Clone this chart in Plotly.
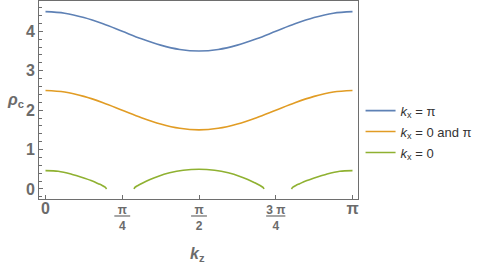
import numpy as np
import plotly.graph_objects as go

# kz sample positions as fractions of pi
kz_frac = [0, 0.0625, 0.125, 0.1875, 0.25, 0.3125, 0.375, 0.4375, 0.5,
           0.5625, 0.625, 0.6875, 0.75, 0.8125, 0.875, 0.9375, 1.0]
rho_kx_pi = [4.5, 4.46, 4.35, 4.19, 4.0, 3.81, 3.65, 3.54, 3.5,
             3.54, 3.65, 3.81, 4.0, 4.19, 4.35, 4.46, 4.5]
rho_kx_0_pi = [2.5, 2.46, 2.35, 2.19, 2.0, 1.81, 1.65, 1.54, 1.5,
               1.54, 1.65, 1.81, 2.0, 2.19, 2.35, 2.46, 2.5]

# kx = 0 branch (three pieces, gaps where no solution)
kz_g1 = [0, 0.13, 0.26, 0.40, 0.48, 0.54, 0.58, 0.61, 0.625]
rho_g1 = [0.465, 0.45, 0.38, 0.27, 0.20, 0.135, 0.09, 0.045, 0.0]
kz_g2 = [0.906, 0.915, 0.946, 1.0, 1.07, 1.15, 1.27, 1.41, 1.571,
         1.73, 1.87, 1.99, 2.07, 2.14, 2.196, 2.226, 2.236]
rho_g2 = [0.0, 0.04, 0.09, 0.16, 0.24, 0.32, 0.41, 0.475, 0.5,
          0.475, 0.41, 0.32, 0.24, 0.16, 0.09, 0.04, 0.0]
kz_g3 = [2.517, 2.532, 2.562, 2.602, 2.662, 2.742, 2.882, 3.012, 3.1416]
rho_g3 = [0.0, 0.045, 0.09, 0.135, 0.20, 0.27, 0.38, 0.45, 0.465]

x_tick_vals = [0, np.pi / 4, np.pi / 2, 3 * np.pi / 4, np.pi]
x_tick_text = [
    "<span style='font-size:16px'>0</span>",
    "<u>&nbsp;π&nbsp;</u><br>4",
    "<u>&nbsp;π&nbsp;</u><br>2",
    "<u>3 π</u><br>4",
    "<span style='font-size:16px'>π</span>",
]
series_names = ["<i>k</i><sub>x</sub> = π", "<i>k</i><sub>x</sub> = 0 and π",
                "<i>k</i><sub>x</sub> = 0"]
colors = ["#5E81B5", "#E19C24", "#8FB131"]

kz = [f * np.pi for f in kz_frac]
fig = go.Figure()
fig.add_trace(go.Scatter(x=kz, y=rho_kx_pi, mode="lines", name=series_names[0],
                         legendgroup="a",
                         line=dict(color=colors[0], width=1.6, shape="spline")))
fig.add_trace(go.Scatter(x=kz, y=rho_kx_0_pi, mode="lines", name=series_names[1],
                         legendgroup="b",
                         line=dict(color=colors[1], width=1.6, shape="spline")))
gx = kz_g1 + [None] + kz_g2 + [None] + kz_g3
gy = rho_g1 + [None] + rho_g2 + [None] + rho_g3
fig.add_trace(go.Scatter(x=gx, y=gy, mode="lines", name=series_names[2],
                         legendgroup="c", connectgaps=False,
                         line=dict(color=colors[2], width=1.6, shape="spline", smoothing=0.8)))

frame = "#6e6e6e"
tickc = "#6b6b6b"
fig.update_layout(
    width=487, height=265,
    margin=dict(l=39, r=129, t=1, b=66, autoexpand=False),
    paper_bgcolor="white", plot_bgcolor="white",
    font=dict(family="Liberation Sans, Arial, sans-serif"),
    legend=dict(x=1.008, y=0.34, xanchor="left", yanchor="middle",
                font=dict(size=13, color="#333333"),
                itemwidth=30, tracegroupgap=1),
    xaxis=dict(range=[-0.0665, np.pi + 0.0563], showgrid=False, zeroline=False,
               automargin=False,
               showline=True, mirror=True, linecolor=frame, linewidth=1,
               ticks="inside", ticklen=4, tickcolor=frame,
               tickvals=x_tick_vals, ticktext=x_tick_text,
               tickfont=dict(size=12, color=tickc, weight="bold")),
    yaxis=dict(range=[-0.254, 4.77], showgrid=False, zeroline=False,
               automargin=False,
               showline=True, mirror=True, linecolor=frame, linewidth=1,
               ticks="inside", ticklen=4, tickcolor=frame, dtick=1, tick0=0,
               minor=dict(dtick=0.2, ticks="inside", ticklen=2.5, tickcolor=frame,
                          showgrid=False),
               tickfont=dict(size=16, color=tickc, weight="bold")),
    annotations=[
        dict(text="<i>ρ</i><sub>c</sub>", xref="paper", yref="paper",
             x=-0.075, y=0.5, showarrow=False, xanchor="center", yanchor="middle",
             font=dict(size=16, color=tickc, weight="bold")),
        dict(text="<i>k</i><sub>z</sub>", xref="paper", yref="paper",
             x=0.4984, y=-0.28, showarrow=False, xanchor="center", yanchor="middle",
             font=dict(size=16, color=tickc, weight="bold")),
    ],
)
fig.write_html("out.html", config={"displayModeBar": False},
               post_script="document.body.style.margin='0';document.body.style.overflow='hidden';")
